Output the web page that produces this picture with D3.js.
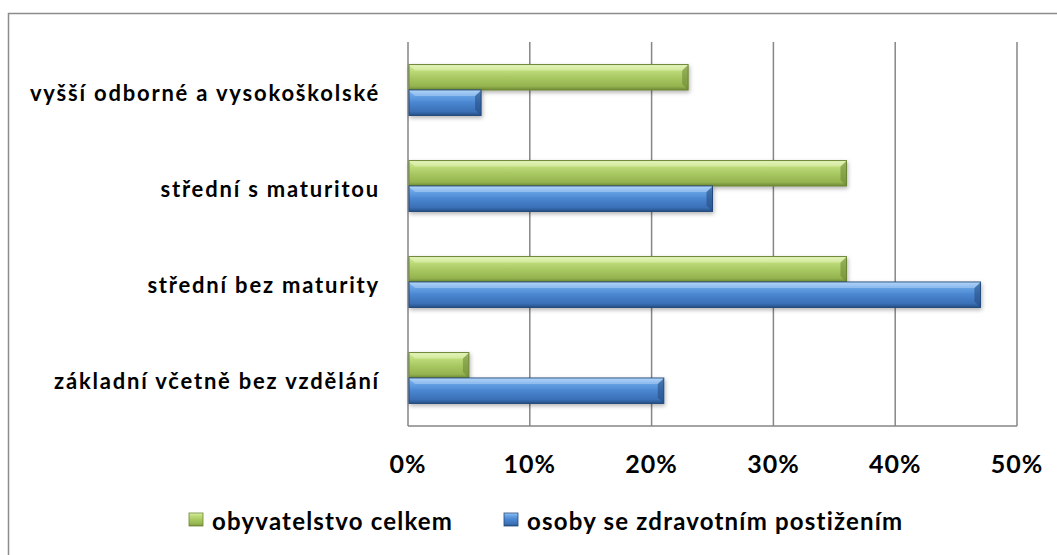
<!DOCTYPE html>
<html lang="cs">
<head>
  <meta charset="UTF-8">
  <title>Vzdělání</title>
  <script src="https://d3js.org/d3.v7.min.js"></script>
  <style>
    body { margin: 0; background: #fff; }
    svg { display: block; }
    text {
      font-family: Lato, "Open Sans", sans-serif;
      font-weight: bold;
      fill: #000;
    }
    .cat { font-size: 22px; letter-spacing: 1.8px; }
    .tick { font-size: 25px; letter-spacing: 1px; }
    .leg { font-size: 24px; letter-spacing: 1.2px; }
  </style>
</head>
<body>
  <svg></svg>
  <script>
    // data
    const categories = ['vyšší odborné a vysokoškolské', 'střední s maturitou', 'střední bez maturity', 'základní včetně bez vzdělání'];
    const seriesNames = ['obyvatelstvo celkem', 'osoby se zdravotním postižením'];
    const celkem = [23, 36, 36, 5];
    const postizeni = [6, 25, 47, 21];
    const ticks = [0, 10, 20, 30, 40, 50];

    const W = 1057, H = 555;
    const plot = {left: 408, right: 1017, top: 42, bottom: 426};

    const svg = d3.select('svg').attr('width', W).attr('height', H);

    const defs = svg.append('defs');
    const grads = [
      {id: 'gGreen', stops: ['#e0f2b0', '#c2e07f', '#a9c963', '#95b44f', '#6f8a36']},
      {id: 'gBlue', stops: ['#a6cdf6', '#6aa6e8', '#4a86d0', '#3a70b6', '#254f86']}
    ];
    grads.forEach(g => {
      const lg = defs.append('linearGradient').attr('id', g.id)
        .attr('x1', 0).attr('y1', 0).attr('x2', 0).attr('y2', 1);
      [0, 0.18, 0.5, 0.85, 1].forEach((o, i) => {
        lg.append('stop').attr('offset', o).attr('stop-color', g.stops[i]);
      });
    });
    const f = defs.append('filter').attr('id', 'shadow')
      .attr('x', '-5%').attr('y', '-20%').attr('width', '115%').attr('height', '160%');
    f.append('feDropShadow').attr('dx', 1).attr('dy', 2).attr('stdDeviation', 2)
      .attr('flood-color', '#000').attr('flood-opacity', 0.3);

    // outer frame (only top and left visible)
    svg.append('path')
      .attr('d', `M8.5,${H + 5} V13.5 H${W + 5}`)
      .attr('fill', 'none').attr('stroke', '#8c8c8c').attr('stroke-width', 1.5);

    const x = d3.scaleLinear().domain([0, 50]).range([plot.left, plot.right]);
    const y = d3.scaleBand().domain(categories).range([plot.top, plot.bottom]).paddingInner(0.47).paddingOuter(0.235);
    const sub = d3.scaleBand().domain(seriesNames).range([0, y.bandwidth()]);

    // gridlines
    svg.append('g').selectAll('line').data(ticks).join('line')
      .attr('x1', d => x(d)).attr('x2', d => x(d))
      .attr('y1', plot.top).attr('y2', plot.bottom)
      .attr('stroke', '#868686').attr('stroke-width', 1.5);
    svg.append('line')
      .attr('x1', plot.left).attr('x2', plot.right)
      .attr('y1', plot.bottom).attr('y2', plot.bottom)
      .attr('stroke', '#868686').attr('stroke-width', 1.5);

    // bars
    const series = [
      {name: seriesNames[0], values: celkem, fill: 'url(#gGreen)', edge: '#6c8534', hi: '#eef8cf'},
      {name: seriesNames[1], values: postizeni, fill: 'url(#gBlue)', edge: '#23497c', hi: '#c4def9'}
    ];
    series.forEach(s => {
      const g = svg.append('g');
      categories.forEach((c, i) => {
        const x0 = x(0) + 1, x1 = x(s.values[i]);
        const y0 = y(c) + sub(s.name), h = sub.bandwidth();
        const bar = g.append('g').attr('filter', 'url(#shadow)');
        bar.append('rect')
          .attr('x', x0).attr('y', y0).attr('width', x1 - x0).attr('height', h)
          .attr('fill', s.fill).attr('stroke', s.edge).attr('stroke-width', 1);
        // bevel at right end
        const b = 6;
        bar.append('path')
          .attr('d', `M${x1 - b},${y0 + b} L${x1},${y0} V${y0 + h} L${x1 - b},${y0 + h - b} Z`)
          .attr('fill', s.edge).attr('opacity', 0.55);
        bar.append('path')
          .attr('d', `M${x0},${y0 + 0.5} H${x1} L${x1 - b},${y0 + b} H${x0 + b} Z`)
          .attr('fill', s.hi).attr('opacity', 0.45);
      });
    });

    // category labels
    svg.append('g').selectAll('text').data(categories).join('text')
      .attr('class', 'cat')
      .attr('x', 380)
      .attr('y', d => y(d) + y.bandwidth() / 2 + 11)
      .attr('text-anchor', 'end')
      .text(d => d);

    // tick labels
    svg.append('g').selectAll('text').data(ticks).join('text')
      .attr('class', 'tick')
      .attr('x', d => x(d))
      .attr('y', 473)
      .attr('text-anchor', 'middle')
      .text(d => d + '%');

    // legend
    const legend = [
      {name: seriesNames[0], fill: 'url(#gGreen)', edge: '#6c8534', x: 189},
      {name: seriesNames[1], fill: 'url(#gBlue)', edge: '#23497c', x: 504}
    ];
    const lg = svg.append('g').selectAll('g').data(legend).join('g')
      .attr('transform', d => `translate(${d.x},513)`);
    lg.append('rect').attr('width', 14).attr('height', 13)
      .attr('fill', d => d.fill).attr('stroke', d => d.edge).attr('stroke-width', 0.8);
    lg.append('text').attr('class', 'leg').attr('x', 23).attr('y', 17).text(d => d.name);
  </script>
</body>
</html>
